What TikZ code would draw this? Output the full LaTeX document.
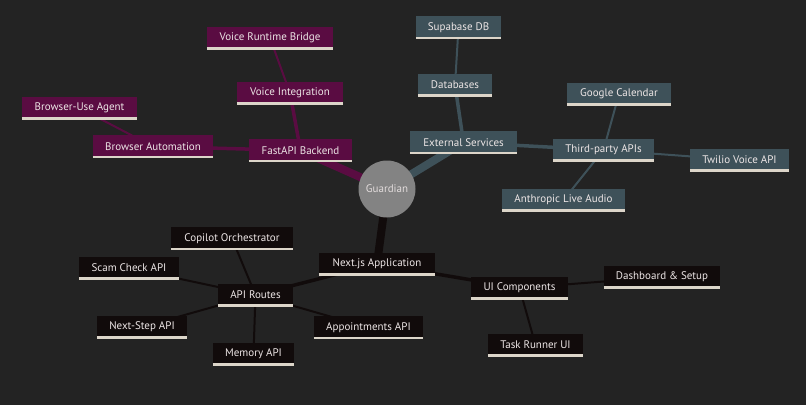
\documentclass[tikz,border=0pt]{standalone}
\usepackage{fontspec}
\setmainfont{PT Sans}
\usetikzlibrary{backgrounds}
\definecolor{bg}{HTML}{232323}
\definecolor{secA}{HTML}{5A0C42}
\definecolor{secB}{HTML}{3E5159}
\definecolor{secC}{HTML}{110B0B}
\definecolor{uline}{HTML}{DCD5C9}
\definecolor{txt}{HTML}{EDE6E6}
\definecolor{rootc}{HTML}{838383}
\tikzset{
  mm/.style={rectangle, inner sep=0pt, minimum height=23pt, text=txt,
    font=\fontsize{11}{13}\selectfont},
  na/.style={mm, fill=secA},
  nb/.style={mm, fill=secB},
  nc/.style={mm, fill=secC},
  ul/.style={draw=uline, line width=2.4pt},
  ea1/.style={draw=secA, line width=8pt},
  eb1/.style={draw=secB, line width=8pt},
  ec1/.style={draw=secC, line width=8pt},
  ea2/.style={draw=secA, line width=3.5pt},
  eb2/.style={draw=secB, line width=3.5pt},
  ec2/.style={draw=secC, line width=3.5pt},
  ea3/.style={draw=secA, line width=2pt},
  eb3/.style={draw=secB, line width=2pt},
  ec3/.style={draw=secC, line width=2pt},
}
\begin{document}
\begin{tikzpicture}[x=1pt, y=-1pt]
\begin{pgfonlayer}{background}
\fill[bg] (0,0) rectangle (806,405);
\end{pgfonlayer}
\useasboundingbox (0,0) rectangle (806,405);
% root
\node[circle, fill=rootc, minimum size=57pt, inner sep=0pt, text=txt!90!gray,
  font=\fontsize{11}{13}\selectfont] (root) at (387,189) {Guardian};
% section A
\node[na, minimum width=103pt] (fast) at (300.5,150.5) {FastAPI Backend};
\node[na, minimum width=106pt] (vint) at (290,93) {Voice Integration};
\node[na, minimum width=126pt] (vrb) at (270,38) {Voice Runtime Bridge};
\node[na, minimum width=120pt] (bauto) at (153,146.5) {Browser Automation};
\node[na, minimum width=115pt] (buse) at (79.5,108) {Browser-Use Agent};
% section B
\node[nb, minimum width=107pt] (ext) at (463.5,142.5) {External Services};
\node[nb, minimum width=74pt] (db) at (455,85) {Databases};
\node[nb, minimum width=85pt] (supa) at (458.5,27.5) {Supabase DB};
\node[nb, minimum width=101pt] (third) at (603.5,150) {Third-party APIs};
\node[nb, minimum width=104pt] (gcal) at (619,94) {Google Calendar};
\node[nb, minimum width=99pt] (twilio) at (739.5,160) {Twilio Voice API};
\node[nb, minimum width=123pt] (anth) at (563.5,200) {Anthropic Live Audio};
% section C
\node[nc, minimum width=116pt] (next) at (377,264) {Next.js Application};
\node[nc, minimum width=75pt] (api) at (255.5,295) {API Routes};
\node[nc, minimum width=122pt] (copilot) at (232,238.5) {Copilot Orchestrator};
\node[nc, minimum width=100pt] (scam) at (129,268) {Scam Check API};
\node[nc, minimum width=90pt] (nstep) at (142,327) {Next-Step API};
\node[nc, minimum width=109pt] (appt) at (368.5,327.5) {Appointments API};
\node[nc, minimum width=81pt] (mem) at (253.5,354) {Memory API};
\node[nc, minimum width=97pt] (ui) at (519.5,288) {UI Components};
\node[nc, minimum width=116pt] (dash) at (662,277) {Dashboard \& Setup};
\node[nc, minimum width=95pt] (task) at (535.5,345) {Task Runner UI};
% underlines
\foreach \n in {fast,vint,vrb,bauto,buse,ext,db,supa,third,gcal,twilio,anth,
  next,api,copilot,scam,nstep,appt,mem,ui,dash,task}
  \draw[ul] ([yshift=1.2pt]\n.south west) -- ([yshift=1.2pt]\n.south east);
\begin{pgfonlayer}{background}
\path[ea1] (root.center) -- (fast.center);
\path[eb1] (root.center) -- (ext.center);
\path[ec1] (root.center) -- (next.center);
\path[ea2] (fast.center) -- (vint.center);
\path[ea2] (fast.center) -- (bauto.center);
\path[ea3] (vint.center) -- (vrb.center);
\path[ea3] (bauto.center) -- (buse.center);
\path[eb2] (ext.center) -- (db.center);
\path[eb2] (ext.center) -- (third.center);
\path[eb3] (db.center) -- (supa.center);
\path[eb3] (third.center) -- (gcal.center);
\path[eb3] (third.center) -- (twilio.center);
\path[eb3] (third.center) -- (anth.center);
\path[ec2] (next.center) -- (api.center);
\path[ec2] (next.center) -- (ui.center);
\path[ec3] (api.center) -- (copilot.center);
\path[ec3] (api.center) -- (scam.center);
\path[ec3] (api.center) -- (nstep.center);
\path[ec3] (api.center) -- (appt.center);
\path[ec3] (api.center) -- (mem.center);
\path[ec3] (ui.center) -- (dash.center);
\path[ec3] (ui.center) -- (task.center);
\end{pgfonlayer}
\end{tikzpicture}
\end{document}
